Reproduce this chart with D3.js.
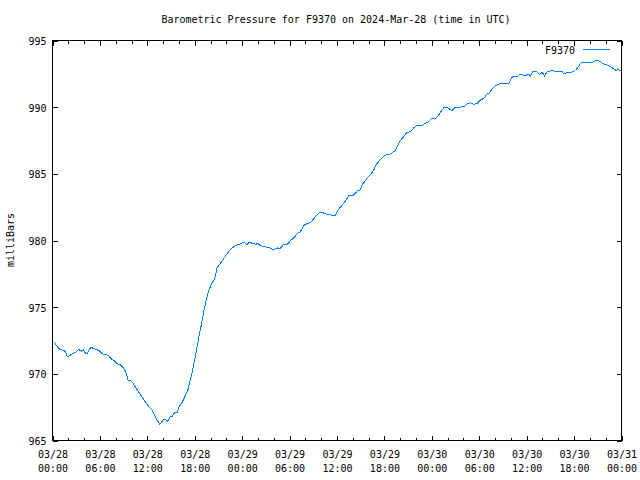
<!DOCTYPE html>
<html>
<head>
<meta charset="utf-8">
<script src="https://cdn.jsdelivr.net/npm/d3@7"></script>
<style>
  html, body { margin: 0; padding: 0; background: #fff; }
  text { font-family: "DejaVu Sans Mono", monospace; font-size: 10px; fill: #000; }
</style>
</head>
<body>
<svg id="chart" width="640" height="480"></svg>
<script>
// ---- data (hours since 2024-03-28 00:00 UTC, pressure in milliBars) ----
const hours = [0.19,0.29,0.59,0.92,1.43,1.65,1.86,2.06,2.49,2.91,3.33,3.63,3.88,4.18,4.39,4.72,4.90,5.23,5.66,5.99,
  6.29,6.71,7.12,7.34,7.76,8.19,8.60,8.95,9.24,9.58,10.0,10.29,10.63,10.92,11.35,11.77,12.19,12.62,13.03,13.35,
  13.58,14.01,14.30,14.59,14.84,15.15,15.44,15.78,15.98,16.41,16.83,17.12,17.37,17.68,17.97,18.22,18.51,18.82,19.14,19.49,
  19.78,20.12,20.50,20.84,21.04,21.47,21.89,22.44,23.16,23.79,24.21,24.59,24.84,25.40,25.69,25.98,26.23,26.74,27.08,27.50,
  27.93,28.43,28.76,29.19,29.70,30.12,30.53,30.96,31.38,31.89,32.23,32.65,33.06,33.41,33.82,34.13,34.42,34.84,35.27,35.81,
  36.10,36.35,36.66,37.08,37.49,38.05,38.56,38.97,39.19,39.48,39.90,40.33,40.66,41.00,41.50,42.01,42.55,42.98,43.40,43.69,
  44.03,44.45,44.86,45.30,45.72,46.06,46.78,47.20,47.62,47.92,48.46,48.81,49.18,49.51,50.02,50.58,50.87,51.63,52.13,52.47,
  52.89,53.31,53.74,54.16,54.58,54.92,55.34,55.64,56.06,56.60,57.74,58.17,58.80,59.13,59.85,60.27,60.48,60.82,61.33,61.66,
  61.97,62.26,62.60,63.23,63.86,64.49,64.70,65.13,65.76,66.18,66.60,66.81,67.44,68.29,68.93,69.34,69.76,70.26,70.69,71.11,
  71.37,71.53,71.79,71.94];
const pressure = [972.39,972.33,972.05,971.83,971.75,971.62,971.32,971.32,971.50,971.62,971.83,971.70,971.80,971.55,971.55,971.88,972.00,971.88,971.80,971.70,
  971.50,971.43,971.38,971.17,971.00,970.75,970.68,970.45,970.20,969.50,969.45,969.20,968.88,968.62,968.25,967.87,967.55,967.25,966.75,966.43,
  966.20,966.55,966.55,966.45,966.75,966.82,967.08,967.12,967.50,967.87,968.38,968.75,969.37,970.12,971.00,971.75,972.75,973.63,974.68,975.65,
  976.25,976.75,977.08,977.98,978.13,978.46,978.84,979.29,979.63,979.75,979.87,979.70,979.83,979.80,979.70,979.80,979.63,979.55,979.50,979.45,
  979.30,979.45,979.36,979.66,979.70,980.00,980.20,980.50,980.68,981.20,981.25,981.35,981.63,981.88,982.12,982.14,982.00,981.97,981.90,981.91,
  982.25,982.45,982.66,982.96,983.38,983.38,983.71,983.80,984.20,984.39,984.76,985.00,985.30,985.75,986.05,986.38,986.45,986.58,986.75,987.13,
  987.50,987.80,988.12,988.15,988.45,988.63,988.63,988.80,988.93,989.13,989.13,989.38,989.68,989.94,989.94,989.75,989.95,990.00,990.05,990.25,
  990.33,990.20,990.30,990.55,990.65,990.95,991.10,991.38,991.63,991.75,991.78,992.26,992.30,992.45,992.38,992.49,992.30,992.71,992.64,992.45,
  992.62,992.34,992.68,992.73,992.68,992.68,992.50,992.58,992.64,992.75,993.07,993.31,993.35,993.37,993.54,993.40,993.24,993.13,993.00,992.83,
  992.75,992.88,992.75,992.71];
const yTicks = [965, 970, 975, 980, 985, 990, 995];
const xTickHours = [0, 6, 12, 18, 24, 30, 36, 42, 48, 54, 60, 66, 72];
const xMinorHours = d3.range(0, 73, 2);
const seriesName = "F9370";
const titleText = "Barometric Pressure for F9370 on 2024-Mar-28 (time in UTC)";
const yLabel = "milliBars";

// ---- setup ----
const t0 = Date.UTC(2024, 2, 28, 0, 0);
const toDate = h => new Date(t0 + h * 3600e3);
const data = hours.map((h, i) => ({ t: toDate(h), v: pressure[i] }));

const L = 52, R = 621, T = 40, B = 440;
const svg = d3.select("#chart");
const x = d3.scaleUtc().domain([toDate(0), toDate(72)]).range([L, R]);
const y = d3.scaleLinear().domain([965, 995]).range([B, T]);

const g = svg.append("g").attr("transform", "translate(0.5,0.5)");

// minor ticks (bottom and top)
const minor = xMinorHours.filter(h => h % 6 !== 0).map(toDate);
g.append("g").attr("transform", `translate(0,${B})`)
  .call(d3.axisBottom(x).tickValues(minor).tickSize(-3).tickFormat(""))
  .call(s => s.select(".domain").remove());
g.append("g").attr("transform", `translate(0,${T})`)
  .call(d3.axisTop(x).tickValues(minor).tickSize(-3).tickFormat(""))
  .call(s => s.select(".domain").remove());

// major x ticks bottom with labels
const fmtDate = d3.utcFormat("%m/%d"), fmtTime = d3.utcFormat("%H:%M");
const xb = g.append("g").attr("transform", `translate(0,${B})`)
  .call(d3.axisBottom(x).tickValues(xTickHours.map(toDate)).tickSize(-5).tickPadding(0).tickFormat(""));
xb.select(".domain").remove();
xb.selectAll(".tick").append("text")
  .attr("text-anchor", "middle")
  .attr("y", 17)
  .text(d => fmtDate(d));
xb.selectAll(".tick").append("text")
  .attr("text-anchor", "middle")
  .attr("y", 31)
  .text(d => fmtTime(d));
g.append("g").attr("transform", `translate(0,${T})`)
  .call(d3.axisTop(x).tickValues(xTickHours.map(toDate)).tickSize(-5).tickFormat(""))
  .call(s => s.select(".domain").remove());

// y ticks left with labels, right mirrored
const yl = g.append("g").attr("transform", `translate(${L},0)`)
  .call(d3.axisLeft(y).tickValues(yTicks).tickSize(-5).tickFormat(""));
yl.select(".domain").remove();
yl.selectAll(".tick").append("text")
  .attr("text-anchor", "end")
  .attr("x", -6)
  .attr("y", 4)
  .text(d => d3.format("d")(d));
g.append("g").attr("transform", `translate(${R},0)`)
  .call(d3.axisRight(y).tickValues(yTicks).tickSize(-5).tickFormat(""))
  .call(s => s.select(".domain").remove());

g.selectAll(".tick line").attr("stroke", "#000").attr("shape-rendering", "crispEdges");

// frame
g.append("rect").attr("x", L).attr("y", T).attr("width", R - L).attr("height", B - T)
  .attr("fill", "none").attr("stroke", "#000").attr("stroke-width", 1)
  .attr("shape-rendering", "crispEdges");

// line
const line = d3.line().x(d => x(d.t)).y(d => y(d.v));
g.append("path").datum(data).attr("d", line)
  .attr("fill", "none").attr("stroke", "#0080ff").attr("stroke-width", 1)
  .attr("shape-rendering", "crispEdges");

// legend
svg.append("text").attr("x", 575).attr("y", 54).attr("text-anchor", "end").text(seriesName);
g.append("line").attr("x1", 582).attr("x2", 609).attr("y1", 49).attr("y2", 49)
  .attr("stroke", "#0080ff").attr("stroke-width", 1).attr("shape-rendering", "crispEdges");

// title
svg.append("text").attr("x", 336).attr("y", 23).attr("text-anchor", "middle").text(titleText);

// y label
svg.append("text").attr("transform", "translate(14,240) rotate(-90)")
  .attr("text-anchor", "middle").text(yLabel);
</script>
</body>
</html>
